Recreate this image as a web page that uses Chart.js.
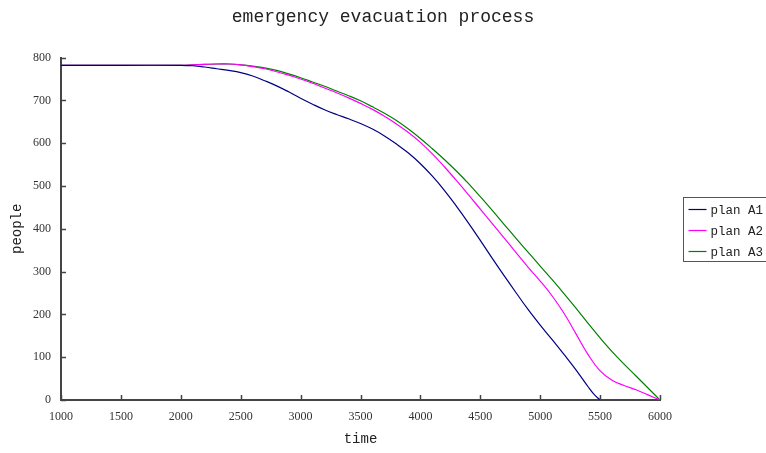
<!DOCTYPE html>
<html>
<head>
<meta charset="utf-8">
<script src="https://cdn.jsdelivr.net/npm/chart.js@4/dist/chart.umd.min.js"></script>
<style>
  html, body { margin: 0; padding: 0; background: #fff; }
  #wrap { position: relative; width: 766px; height: 453px; }
</style>
</head>
<body>
<div id="wrap"><canvas id="evacChart" width="766" height="453"></canvas></div>
<script>
// values
const timeA1 = [1000, 1500, 2000, 2100, 2200, 2300, 2400, 2500, 2600, 2700, 2800, 2900, 3000, 3100, 3200, 3300, 3400, 3500, 3600, 3700, 3800, 3900, 4000, 4100, 4200, 4300, 4400, 4500, 4600, 4700, 4800, 4900, 5000, 5100, 5200, 5300, 5400, 5450, 5500];
const peopleA1 = [782, 782, 782, 781, 778, 774, 770, 765, 757, 746, 734, 720, 705, 691, 678, 667, 657, 646, 633, 617, 598, 577, 552, 523, 490, 453, 414, 373, 331, 290, 250, 211, 175, 141, 106, 70, 31, 13, 0];

const timeA2 = [1000, 1500, 2000, 2100, 2200, 2300, 2400, 2500, 2600, 2700, 2800, 2900, 3000, 3100, 3200, 3300, 3400, 3500, 3600, 3700, 3800, 3900, 4000, 4100, 4200, 4300, 4400, 4500, 4600, 4700, 4800, 4900, 5000, 5100, 5200, 5300, 5400, 5500, 5600, 5700, 5800, 5900, 6000];
const peopleA2 = [782, 782, 782, 783, 784, 785, 785, 783, 779, 774, 767, 759, 750, 740, 729, 718, 706, 693, 679, 663, 645, 625, 602, 575, 545, 513, 480, 446, 412, 378, 344, 310, 278, 243, 202, 154, 106, 68, 46, 34, 24, 12, 0];

const timeA3 = [1000, 1500, 2000, 2100, 2200, 2300, 2400, 2500, 2600, 2700, 2800, 2900, 3000, 3100, 3200, 3300, 3400, 3500, 3600, 3700, 3800, 3900, 4000, 4100, 4200, 4300, 4400, 4500, 4600, 4700, 4800, 4900, 5000, 5100, 5200, 5300, 5400, 5500, 5600, 5700, 5800, 5900, 6000];
const peopleA3 = [782, 782, 782, 783, 784, 785, 785, 783, 780, 776, 770, 762, 753, 743, 733, 722, 711, 699, 685, 670, 653, 633, 611, 587, 562, 535, 506, 475, 443, 410, 377, 345, 313, 281, 248, 214, 179, 145, 113, 84, 56, 28, 0];

const seriesNames = ["plan A1", "plan A2", "plan A3"];
const seriesColors = ["#000080", "#ff00ff", "#008000"];
const xTicks = [1000, 1500, 2000, 2500, 3000, 3500, 4000, 4500, 5000, 5500, 6000];
const yTicks = [0, 100, 200, 300, 400, 500, 600, 700, 800];

function toPoints(xs, ys) {
  return xs.map((x, i) => ({ x: x, y: ys[i] }));
}

// small tick marks pointing into the plot, like the original
const innerTicks = {
  id: "innerTicks",
  afterDraw(chart) {
    const ctx = chart.ctx;
    const xs = chart.scales.x;
    const ys = chart.scales.y;
    const area = chart.chartArea;
    ctx.save();
    ctx.strokeStyle = "#444";
    ctx.lineWidth = 1.5;
    xTicks.forEach(v => {
      const px = Math.round(xs.getPixelForValue(v)) + 0.5;
      ctx.beginPath();
      ctx.moveTo(px, area.bottom);
      ctx.lineTo(px, area.bottom - 5);
      ctx.stroke();
    });
    yTicks.forEach(v => {
      const py = Math.round(ys.getPixelForValue(v)) + 0.5;
      ctx.beginPath();
      ctx.moveTo(area.left, py);
      ctx.lineTo(area.left + 5, py);
      ctx.stroke();
    });
    ctx.restore();
  }
};

// boxed legend at the right edge
const boxLegend = {
  id: "boxLegend",
  afterDraw(chart) {
    const ctx = chart.ctx;
    const left = 683.5, top = 197.5, rowH = 21;
    ctx.save();
    ctx.strokeStyle = "#555";
    ctx.lineWidth = 1;
    ctx.strokeRect(left, top, 100, 64);
    ctx.font = "12.5px 'Liberation Mono', monospace";
    ctx.textBaseline = "middle";
    chart.data.datasets.forEach((ds, i) => {
      const y = top + 12 + i * rowH;
      ctx.strokeStyle = ds.borderColor;
      ctx.lineWidth = 1.2;
      ctx.beginPath();
      ctx.moveTo(left + 5, y);
      ctx.lineTo(left + 23, y);
      ctx.stroke();
      ctx.fillStyle = "#222";
      ctx.fillText(ds.label, left + 27, y + 1);
    });
    ctx.restore();
  }
};

const ctx = document.getElementById("evacChart").getContext("2d");

new Chart(ctx, {
  type: "line",
  data: {
    datasets: [
      { label: seriesNames[0], data: toPoints(timeA1, peopleA1), borderColor: seriesColors[0] },
      { label: seriesNames[1], data: toPoints(timeA2, peopleA2), borderColor: seriesColors[1] },
      { label: seriesNames[2], data: toPoints(timeA3, peopleA3), borderColor: seriesColors[2] }
    ].map(ds => Object.assign(ds, {
      backgroundColor: ds.borderColor,
      borderWidth: 1.2,
      pointRadius: 0,
      fill: false,
      tension: 0.4
    }))
  },
  options: {
    responsive: false,
    animation: false,
    layout: { padding: 0 },
    plugins: {
      legend: { display: false },
      tooltip: { enabled: false },
      title: {
        display: true,
        text: "emergency evacuation process",
        color: "#222",
        font: { family: "'Liberation Mono', monospace", size: 18, weight: "normal" },
        padding: { top: 6, bottom: 30 }
      }
    },
    scales: {
      x: {
        type: "linear",
        min: 1000,
        max: 6000,
        afterBuildTicks: scale => { scale.ticks = xTicks.map(v => ({ value: v })); },
        afterFit: scale => { scale.height = 53; },
        grid: { display: false, drawTicks: false },
        border: { display: true, color: "#444", width: 2 },
        ticks: {
          color: "#333",
          padding: 10,
          maxRotation: 0,
          callback: v => String(v),
          font: { family: "'Liberation Serif', serif", size: 12 }
        },
        title: {
          display: true,
          text: "time",
          color: "#222",
          font: { family: "'Liberation Mono', monospace", size: 14 },
          padding: { top: 0, bottom: 5 }
        }
      },
      y: {
        min: 0,
        max: 800,
        afterBuildTicks: scale => { scale.ticks = yTicks.map(v => ({ value: v })); },
        afterFit: scale => { scale.width = 61; },
        grid: { display: false, drawTicks: false },
        border: { display: true, color: "#444", width: 2 },
        ticks: {
          color: "#333",
          padding: 10,
          callback: v => String(v),
          font: { family: "'Liberation Serif', serif", size: 12 }
        },
        title: {
          display: true,
          text: "people",
          color: "#222",
          font: { family: "'Liberation Mono', monospace", size: 14 },
          padding: { top: 9, bottom: 0 }
        }
      },
      // empty right-hand space that holds the legend
      yRight: {
        position: "right",
        min: 0,
        max: 800,
        afterFit: scale => { scale.width = 106; },
        grid: { display: false, drawTicks: false },
        border: { display: false },
        ticks: { display: false }
      }
    }
  },
  plugins: [innerTicks, boxLegend]
});
</script>
</body>
</html>
